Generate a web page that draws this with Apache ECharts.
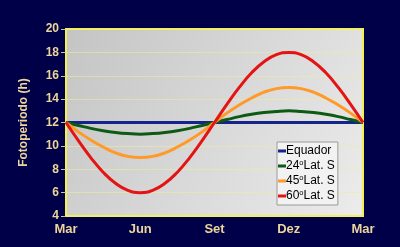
<!DOCTYPE html>
<html><head><meta charset="utf-8">
<script src="https://cdn.jsdelivr.net/npm/echarts@6/dist/echarts.min.js"></script>
<style>html,body{margin:0;padding:0;background:#000048;}#c{width:400px;height:247px;}</style>
</head><body><div id="c"></div>
<script>
// half-month steps after March (0 = Mar ... 24 = next Mar)
const steps = [0,1,2,3,4,5,6,7,8,9,10,11,12,13,14,15,16,17,18,19,20,21,22,23,24];
const xTickLabels = ['Mar','Jun','Set','Dez','Mar'];
const equador = [12,12,12,12,12,12,12,12,12,12,12,12,12,12,12,12,12,12,12,12,12,12,12,12,12];
const lat24 = [12,11.75,11.5,11.3,11.15,11.05,11,11.05,11.15,11.3,11.5,11.75,12,12.25,12.5,12.7,12.85,12.95,13,12.95,12.85,12.7,12.5,12.25,12];
const lat45 = [12,11.2,10.5,9.9,9.4,9.1,9,9.1,9.4,9.9,10.5,11.2,12,12.8,13.5,14.1,14.6,14.9,15,14.9,14.6,14.1,13.5,12.8,12];
const lat60 = [12,10.45,9,7.75,6.8,6.2,6,6.2,6.8,7.75,9,10.45,12,13.55,15,16.25,17.2,17.8,18,17.8,17.2,16.25,15,13.55,12];
const seriesNames = ['Equador','24','45','60'];

const chart = echarts.init(document.getElementById('c'));
function mk(name, vals, color){
  return {name:name,type:'line',smooth:true,symbol:'none',
    data: steps.map((m,i)=>[m,vals[i]]),
    lineStyle:{color:color,width:3}, itemStyle:{color:color}};
}
chart.setOption({
  backgroundColor:'#000048',
  animation:false,
  grid:{left:66,top:29,width:297,height:187,show:true,
    backgroundColor:{type:'linear',x:0,y:0,x2:1,y2:1,colorStops:[{offset:0,color:'#c4c4c4'},{offset:1,color:'#ececec'}]},
    borderColor:'#f4f050',borderWidth:2},
  xAxis:{type:'value',min:0,max:24,interval:6,
    axisLine:{show:false},axisTick:{show:false},splitLine:{show:false},
    axisLabel:{color:'#ecd49a',fontFamily:'Liberation Sans',fontWeight:'bold',fontSize:13,margin:7,
      formatter:v=>xTickLabels[Math.round(v/6)]}},
  yAxis:{type:'value',min:4,max:20,interval:2,
    name:'Fotoperiodo (h)',nameLocation:'middle',nameGap:36,
    nameTextStyle:{color:'#ecd49a',fontFamily:'Liberation Sans',fontWeight:'bold',fontSize:12},
    axisLine:{show:false},
    axisTick:{show:true,length:5,lineStyle:{color:'#c8c8a0'}},
    splitLine:{show:true,lineStyle:{color:'rgba(240,236,150,0.55)',width:1}},
    axisLabel:{color:'#ecd49a',fontFamily:'Liberation Sans',fontWeight:'bold',fontSize:12,margin:7}},
  legend:{orient:'vertical',left:277,top:142,itemWidth:8,itemHeight:3,itemGap:2,
    backgroundColor:'#f2f2f2',borderColor:'#9a9a9a',borderWidth:1,padding:[3,3,3,1],
    icon:'rect',
    textStyle:{color:'#000',fontFamily:'Liberation Sans',fontSize:12,padding:[0,0,0,-5],
      rich:{a:{fontSize:12,fontFamily:'Liberation Sans',color:'#000',lineHeight:13},
            s:{fontSize:7.5,fontFamily:'Liberation Sans',color:'#000',verticalAlign:'top',padding:[0,0,6,0]}}},
    formatter:n=> n==='Equador' ? '{a|Equador}' : '{a|'+n+'}{s|o}{a|Lat. S}',
    data:seriesNames},
  series:[
    mk('Equador',equador,'#14248c'),
    mk('24',lat24,'#0c5a14'),
    mk('45',lat45,'#ff9a28'),
    mk('60',lat60,'#e41414')
  ]
});
</script></body></html>
